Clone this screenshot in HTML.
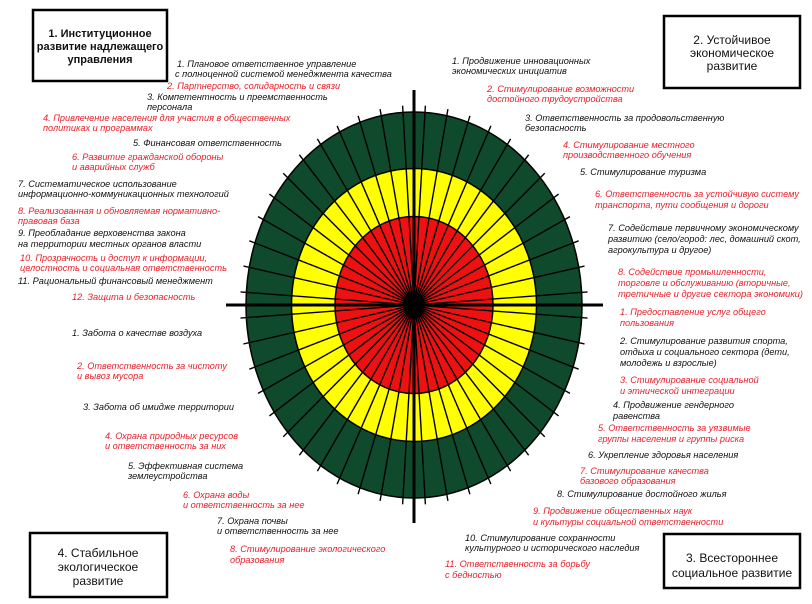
<!DOCTYPE html>
<html><head><meta charset="utf-8"><style>
html,body{margin:0;padding:0;background:#fff;}
svg{display:block;}
.t{font-family:"Liberation Sans","DejaVu Sans",sans-serif;font-size:9.2px;font-style:italic;}
.k{fill:#111;} .r{fill:#e8202a;}
.b{font-family:"Liberation Sans","DejaVu Sans",sans-serif;font-size:12px;fill:#111;text-anchor:middle;}
</style></head><body>
<svg width="812" height="604" viewBox="0 0 812 604" xmlns="http://www.w3.org/2000/svg">
<rect width="812" height="604" fill="#fff"/>
<ellipse cx="414" cy="305" rx="168" ry="193" fill="#0f4a2c" stroke="#000" stroke-width="1.5"/>
<ellipse cx="414" cy="305" rx="122.5" ry="136.5" fill="#ffff00" stroke="#000" stroke-width="1.5"/>
<ellipse cx="414" cy="305" rx="79" ry="88.5" fill="#ee1111" stroke="#000" stroke-width="1.5"/>
<g transform="translate(414,305) scale(168,193)" stroke="#000" stroke-width="1.4">
<line x2="1.035" vector-effect="non-scaling-stroke" transform="rotate(3.75)"/><line x2="1.035" vector-effect="non-scaling-stroke" transform="rotate(11.25)"/><line x2="1.035" vector-effect="non-scaling-stroke" transform="rotate(18.75)"/><line x2="1.035" vector-effect="non-scaling-stroke" transform="rotate(26.25)"/><line x2="1.035" vector-effect="non-scaling-stroke" transform="rotate(33.75)"/><line x2="1.035" vector-effect="non-scaling-stroke" transform="rotate(41.25)"/><line x2="1.035" vector-effect="non-scaling-stroke" transform="rotate(48.75)"/><line x2="1.035" vector-effect="non-scaling-stroke" transform="rotate(56.25)"/><line x2="1.035" vector-effect="non-scaling-stroke" transform="rotate(63.75)"/><line x2="1.035" vector-effect="non-scaling-stroke" transform="rotate(71.25)"/><line x2="1.035" vector-effect="non-scaling-stroke" transform="rotate(78.75)"/><line x2="1.035" vector-effect="non-scaling-stroke" transform="rotate(86.25)"/>
<line x2="1.035" vector-effect="non-scaling-stroke" transform="rotate(93.75)"/><line x2="1.035" vector-effect="non-scaling-stroke" transform="rotate(101.25)"/><line x2="1.035" vector-effect="non-scaling-stroke" transform="rotate(108.75)"/><line x2="1.035" vector-effect="non-scaling-stroke" transform="rotate(116.25)"/><line x2="1.035" vector-effect="non-scaling-stroke" transform="rotate(123.75)"/><line x2="1.035" vector-effect="non-scaling-stroke" transform="rotate(131.25)"/><line x2="1.035" vector-effect="non-scaling-stroke" transform="rotate(138.75)"/><line x2="1.035" vector-effect="non-scaling-stroke" transform="rotate(146.25)"/><line x2="1.035" vector-effect="non-scaling-stroke" transform="rotate(153.75)"/><line x2="1.035" vector-effect="non-scaling-stroke" transform="rotate(161.25)"/><line x2="1.035" vector-effect="non-scaling-stroke" transform="rotate(168.75)"/><line x2="1.035" vector-effect="non-scaling-stroke" transform="rotate(176.25)"/>
<line x2="1.035" vector-effect="non-scaling-stroke" transform="rotate(183.75)"/><line x2="1.035" vector-effect="non-scaling-stroke" transform="rotate(191.25)"/><line x2="1.035" vector-effect="non-scaling-stroke" transform="rotate(198.75)"/><line x2="1.035" vector-effect="non-scaling-stroke" transform="rotate(206.25)"/><line x2="1.035" vector-effect="non-scaling-stroke" transform="rotate(213.75)"/><line x2="1.035" vector-effect="non-scaling-stroke" transform="rotate(221.25)"/><line x2="1.035" vector-effect="non-scaling-stroke" transform="rotate(228.75)"/><line x2="1.035" vector-effect="non-scaling-stroke" transform="rotate(236.25)"/><line x2="1.035" vector-effect="non-scaling-stroke" transform="rotate(243.75)"/><line x2="1.035" vector-effect="non-scaling-stroke" transform="rotate(251.25)"/><line x2="1.035" vector-effect="non-scaling-stroke" transform="rotate(258.75)"/><line x2="1.035" vector-effect="non-scaling-stroke" transform="rotate(266.25)"/>
<line x2="1.035" vector-effect="non-scaling-stroke" transform="rotate(273.75)"/><line x2="1.035" vector-effect="non-scaling-stroke" transform="rotate(281.25)"/><line x2="1.035" vector-effect="non-scaling-stroke" transform="rotate(288.75)"/><line x2="1.035" vector-effect="non-scaling-stroke" transform="rotate(296.25)"/><line x2="1.035" vector-effect="non-scaling-stroke" transform="rotate(303.75)"/><line x2="1.035" vector-effect="non-scaling-stroke" transform="rotate(311.25)"/><line x2="1.035" vector-effect="non-scaling-stroke" transform="rotate(318.75)"/><line x2="1.035" vector-effect="non-scaling-stroke" transform="rotate(326.25)"/><line x2="1.035" vector-effect="non-scaling-stroke" transform="rotate(333.75)"/><line x2="1.035" vector-effect="non-scaling-stroke" transform="rotate(341.25)"/><line x2="1.035" vector-effect="non-scaling-stroke" transform="rotate(348.75)"/><line x2="1.035" vector-effect="non-scaling-stroke" transform="rotate(356.25)"/>
</g>
<ellipse cx="414" cy="305" rx="11" ry="13" fill="#000"/>
<line x1="226" y1="305" x2="603" y2="305" stroke="#000" stroke-width="3"/>
<line x1="414" y1="90" x2="414" y2="523" stroke="#000" stroke-width="3"/>

<rect x="33" y="10" width="134" height="71" fill="#fff" stroke="#000" stroke-width="2.5"/>
<text class="b" style="font-size:11px" font-weight="bold" x="100" y="37">1. Институционное</text>
<text class="b" style="font-size:11px" font-weight="bold" x="100" y="50">развитие надлежащего</text>
<text class="b" style="font-size:11px" font-weight="bold" x="100" y="63">управления</text>
<rect x="664" y="16" width="136" height="72" fill="#fff" stroke="#000" stroke-width="2.5"/>
<text class="b" x="732" y="44">2. Устойчивое</text>
<text class="b" x="732" y="57">экономическое</text>
<text class="b" x="732" y="70">развитие</text>
<rect x="664" y="534" width="136" height="54" fill="#fff" stroke="#000" stroke-width="2.5"/>
<text class="b" x="732" y="562">3. Всестороннее</text>
<text class="b" x="732" y="577">социальное развитие</text>
<rect x="30" y="533" width="137" height="64" fill="#fff" stroke="#000" stroke-width="2.5"/>
<text class="b" x="98" y="557">4. Стабильное</text>
<text class="b" x="98" y="571">экологическое</text>
<text class="b" x="98" y="585">развитие</text>

<g class="t">
<text class="k" x="177" y="67">1. Плановое ответственное управление</text>
<text class="k" x="175" y="77">с полноценной системой менеджмента качества</text>
<text class="r" x="167" y="89">2. Партнерство, солидарность и связи</text>
<text class="k" x="147" y="100">3. Компетентность и преемственность</text>
<text class="k" x="147" y="110">персонала</text>
<text class="r" x="43" y="121">4. Привлечение населения для участия в общественных</text>
<text class="r" x="43" y="131">политиках и программах</text>
<text class="k" x="133" y="146">5. Финансовая ответственность</text>
<text class="r" x="72" y="160">6. Развитие гражданской обороны</text>
<text class="r" x="72" y="170">и аварийных служб</text>
<text class="k" x="18" y="187">7. Систематическое использование</text>
<text class="k" x="18" y="197">информационно-коммуникационных технологий</text>
<text class="r" x="18" y="214">8. Реализованная и обновляемая нормативно-</text>
<text class="r" x="18" y="224">правовая база</text>
<text class="k" x="18" y="236">9. Преобладание верховенства закона</text>
<text class="k" x="18" y="247">на территории местных органов власти</text>
<text class="r" x="20" y="261">10. Прозрачность и доступ к информации,</text>
<text class="r" x="20" y="271">целостность и социальная ответственность</text>
<text class="k" x="18" y="284">11. Рациональный финансовый менеджмент</text>
<text class="r" x="72" y="300">12. Защита и безопасность</text>

<text class="k" x="452" y="64">1. Продвижение инновационных</text>
<text class="k" x="452" y="74">экономических инициатив</text>
<text class="r" x="487" y="92">2. Стимулирование возможности</text>
<text class="r" x="487" y="102">достойного трудоустройства</text>
<text class="k" x="525" y="121">3. Ответственность за продовольственную</text>
<text class="k" x="525" y="131">безопасность</text>
<text class="r" x="563" y="148">4. Стимулирование местного</text>
<text class="r" x="563" y="158">производственного обучения</text>
<text class="k" x="580" y="175">5. Стимулирование туризма</text>
<text class="r" x="595" y="197">6. Ответственность за устойчивую систему</text>
<text class="r" x="595" y="208">транспорта, пути сообщения и дороги</text>
<text class="k" x="608" y="231">7. Содействие первичному экономическому</text>
<text class="k" x="608" y="242">развитию (село/город: лес, домашний скот,</text>
<text class="k" x="608" y="253">агрокультура и другое)</text>
<text class="r" x="618" y="275">8. Содействие промышленности,</text>
<text class="r" x="618" y="286">торговле и обслуживанию (вторичные,</text>
<text class="r" x="618" y="297" textLength="185" lengthAdjust="spacingAndGlyphs">третичные и другие сектора экономики)</text>

<text class="r" x="620" y="315">1. Предоставление услуг общего</text>
<text class="r" x="620" y="326">пользования</text>
<text class="k" x="620" y="344">2. Стимулирование развития спорта,</text>
<text class="k" x="620" y="355">отдыха и социального сектора (дети,</text>
<text class="k" x="620" y="366">молодежь и взрослые)</text>
<text class="r" x="620" y="383">3. Стимулирование социальной</text>
<text class="r" x="620" y="394">и этнической интеграции</text>
<text class="k" x="613" y="408">4. Продвижение гендерного</text>
<text class="k" x="613" y="419">равенства</text>
<text class="r" x="598" y="431">5. Ответственность за уязвимые</text>
<text class="r" x="598" y="442">группы населения и группы риска</text>
<text class="k" x="588" y="458">6. Укрепление здоровья населения</text>
<text class="r" x="580" y="474">7. Стимулирование качества</text>
<text class="r" x="580" y="484">базового образования</text>
<text class="k" x="557" y="497">8. Стимулирование достойного жилья</text>
<text class="r" x="533" y="514">9. Продвижение общественных наук</text>
<text class="r" x="533" y="525">и культуры социальной ответственности</text>
<text class="k" x="465" y="541">10. Стимулирование сохранности</text>
<text class="k" x="465" y="551">культурного и исторического наследия</text>
<text class="r" x="445" y="567">11. Ответственность за борьбу</text>
<text class="r" x="445" y="578">с бедностью</text>

<text class="k" x="72" y="336">1. Забота о качестве воздуха</text>
<text class="r" x="77" y="369">2. Ответственность за чистоту</text>
<text class="r" x="77" y="379">и вывоз мусора</text>
<text class="k" x="83" y="410">3. Забота об имидже территории</text>
<text class="r" x="105" y="439">4. Охрана природных ресурсов</text>
<text class="r" x="105" y="449">и ответственность за них</text>
<text class="k" x="128" y="469">5. Эффективная система</text>
<text class="k" x="128" y="479">землеустройства</text>
<text class="r" x="183" y="498">6. Охрана воды</text>
<text class="r" x="183" y="508">и ответственность за нее</text>
<text class="k" x="217" y="524">7. Охрана почвы</text>
<text class="k" x="217" y="534">и ответственность за нее</text>
<text class="r" x="230" y="552">8. Стимулирование экологического</text>
<text class="r" x="230" y="563">образования</text>
</g>
</svg>
</body></html>
